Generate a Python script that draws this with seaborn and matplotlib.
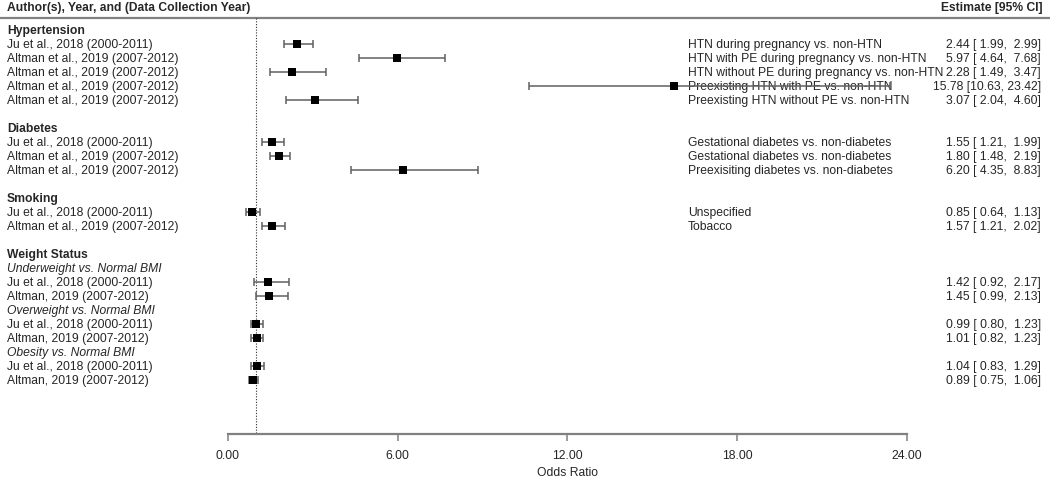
import numpy as np
import pandas as pd
import matplotlib
matplotlib.use("Agg")
import matplotlib.pyplot as plt
import seaborn as sns

# ---- data ----
sections = ["Hypertension", "Diabetes", "Smoking", "Weight Status"]

study_section = [0, 0, 0, 0, 0, 1, 1, 1, 2, 2, 3, 3, 3, 3, 3, 3]
study_subgroup = ["", "", "", "", "", "", "", "", "", "",
                  "Underweight vs. Normal BMI", "Underweight vs. Normal BMI",
                  "Overweight vs. Normal BMI", "Overweight vs. Normal BMI",
                  "Obesity vs. Normal BMI", "Obesity vs. Normal BMI"]
study_labels = [
    "Ju et al., 2018 (2000-2011)",
    "Altman et al., 2019 (2007-2012)",
    "Altman et al., 2019 (2007-2012)",
    "Altman et al., 2019 (2007-2012)",
    "Altman et al., 2019 (2007-2012)",
    "Ju et al., 2018 (2000-2011)",
    "Altman et al., 2019 (2007-2012)",
    "Altman et al., 2019 (2007-2012)",
    "Ju et al., 2018 (2000-2011)",
    "Altman et al., 2019 (2007-2012)",
    "Ju et al., 2018 (2000-2011)",
    "Altman, 2019 (2007-2012)",
    "Ju et al., 2018 (2000-2011)",
    "Altman, 2019 (2007-2012)",
    "Ju et al., 2018 (2000-2011)",
    "Altman, 2019 (2007-2012)",
]
comparisons = [
    "HTN during pregnancy vs. non-HTN",
    "HTN with PE during pregnancy vs. non-HTN",
    "HTN without PE during pregnancy vs. non-HTN",
    "Preexisting HTN with PE vs. non-HTN",
    "Preexisting HTN without PE vs. non-HTN",
    "Gestational diabetes vs. non-diabetes",
    "Gestational diabetes vs. non-diabetes",
    "Preexisiting diabetes vs. non-diabetes",
    "Unspecified",
    "Tobacco",
    "", "", "", "", "", "",
]
estimates = [2.44, 5.97, 2.28, 15.78, 3.07, 1.55, 1.80, 6.20, 0.85, 1.57,
             1.42, 1.45, 0.99, 1.01, 1.04, 0.89]
ci_low = [1.99, 4.64, 1.49, 10.63, 2.04, 1.21, 1.48, 4.35, 0.64, 1.21,
          0.92, 0.99, 0.80, 0.82, 0.83, 0.75]
ci_high = [2.99, 7.68, 3.47, 23.42, 4.60, 1.99, 2.19, 8.83, 1.13, 2.02,
           2.17, 2.13, 1.23, 1.23, 1.29, 1.06]
x_ticks = [0, 6, 12, 18, 24]

# ---- build row layout (one row per text line, blank row between sections) ----
rows = []
header_rows = []
sub_rows = []
r = 0
for s, name in enumerate(sections):
    if s > 0:
        r += 1
    header_rows.append((r, name))
    r += 1
    last_sub = None
    for i in range(len(study_labels)):
        if study_section[i] != s:
            continue
        if study_subgroup[i] and study_subgroup[i] != last_sub:
            sub_rows.append((r, study_subgroup[i]))
            last_sub = study_subgroup[i]
            r += 1
        rows.append(r)
        r += 1
n_rows = r

df = pd.DataFrame({"study": study_labels, "comparison": comparisons,
                   "est": estimates, "lo": ci_low, "hi": ci_high, "row": rows})

# ---- figure ----
sns.set_style("white")
plt.rcParams["font.family"] = ["Liberation Sans", "DejaVu Sans"]
fs = 8.75

fig = plt.figure(figsize=(10.5, 4.81), dpi=100)
ax = fig.add_axes([0, 0, 1, 1])
ax.set_xlim(-8.06, 29.06)
ax.set_ylim(32.14, -2.214)

grey = "#808080"
bar_col = "#606060"

# header line + headers
ax.axhline(-0.857, color=grey, lw=1.6)
ax.text(-7.81, -1.64, "Author(s), Year, and (Data Collection Year)",
        fontsize=fs, fontweight="bold", va="center", ha="left")
ax.text(28.80, -1.64, "Estimate [95% CI]", fontsize=fs, fontweight="bold",
        va="center", ha="right")

# reference line at OR = 1
axis_y = n_rows + 2.86
ax.plot([1, 1], [-0.857, axis_y], color="#303030", lw=0.8, ls=(0, (1, 1.5)))

# confidence intervals
ax.errorbar(df["est"], df["row"],
            xerr=[df["est"] - df["lo"], df["hi"] - df["est"]],
            fmt="none", ecolor=bar_col, elinewidth=1.1, capsize=3, capthick=1.1,
            zorder=2)
sns.scatterplot(data=df, x="est", y="row", marker="s", s=30, color="black",
                edgecolor="black", linewidth=0, ax=ax, zorder=3, legend=False)
ax.set_xlabel("")
ax.set_ylabel("")

# text columns
for r_, name in header_rows:
    ax.text(-7.81, r_, name, fontsize=fs, fontweight="bold", va="center", ha="left")
for r_, name in sub_rows:
    ax.text(-7.81, r_, name, fontsize=fs, fontstyle="italic", va="center", ha="left")
for _, row in df.iterrows():
    ax.text(-7.81, row["row"], row["study"], fontsize=fs, va="center", ha="left")
    if row["comparison"]:
        ax.text(16.26, row["row"], row["comparison"], fontsize=fs,
                va="center", ha="left", zorder=1)
    ax.text(28.74, row["row"],
            f"{row['est']:.2f} [{row['lo']:5.2f}, {row['hi']:5.2f}]",
            fontsize=fs, va="center", ha="right")

# x axis
for sp in ["top", "left", "right"]:
    ax.spines[sp].set_visible(False)
ax.spines["bottom"].set_position(("data", axis_y))
ax.spines["bottom"].set_bounds(0, 24)
ax.spines["bottom"].set_color(grey)
ax.spines["bottom"].set_linewidth(1.6)
ax.set_xticks(x_ticks)
ax.set_xticklabels([f"{t:.2f}" for t in x_ticks], fontsize=fs)
ax.tick_params(axis="x", direction="out", length=5, width=1.1, color=grey,
               pad=6, bottom=True)
ax.set_yticks([])
ax.text(12, n_rows + 5.57, "Odds Ratio", fontsize=fs, ha="center", va="center")

fig.savefig("out.png", dpi=100)
